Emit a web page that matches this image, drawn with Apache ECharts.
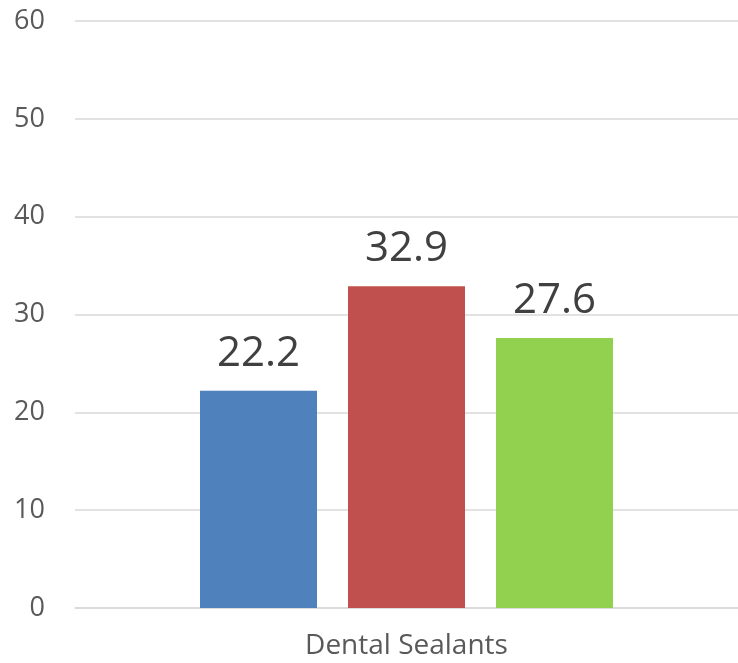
<!DOCTYPE html>
<html><head><meta charset="utf-8">
<script src="https://cdn.jsdelivr.net/npm/echarts@6/dist/echarts.min.js"></script>
<style>html,body{margin:0;padding:0;background:#fff}#c{width:738px;height:663px}</style>
</head><body><div id="c"></div>
<script>
var categories = ['Dental Sealants'];
var seriesNames = ['Series 1', 'Series 2', 'Series 3'];
var seriesValues = [[22.2], [32.9], [27.6]];
var colors = ['#4F81BD', '#C0504D', '#92D050'];
var yTicks = [0, 10, 20, 30, 40, 50, 60];

var chart = echarts.init(document.getElementById('c'));
var font = 'Open Sans, Liberation Sans, sans-serif';
chart.setOption({
  animation: false,
  grid: {left: 75, width: 669, top: 21, bottom: 55},
  xAxis: {
    type: 'category', data: categories,
    axisLine: {lineStyle: {color: '#D9D9D9', width: 1.5}},
    axisTick: {show: false},
    axisLabel: {color: '#595959', fontSize: 28, fontFamily: font, margin: 24}
  },
  yAxis: {
    type: 'value', min: yTicks[0], max: yTicks[yTicks.length-1], interval: 10,
    axisLine: {show: false}, axisTick: {show: false},
    splitLine: {lineStyle: {color: '#D9D9D9', width: 1.5}},
    axisLabel: {color: '#595959', fontSize: 27, fontFamily: font, margin: 30, align: 'right'}
  },
  series: seriesNames.map(function(n, i){
    return {
      name: n, type: 'bar', data: seriesValues[i],
      barWidth: 117, barGap: '26.5%',
      itemStyle: {color: colors[i]},
      label: {show: true, position: 'top', distance: 16, color: '#404040', fontSize: 42, fontFamily: font}
    };
  })
});
</script></body></html>
